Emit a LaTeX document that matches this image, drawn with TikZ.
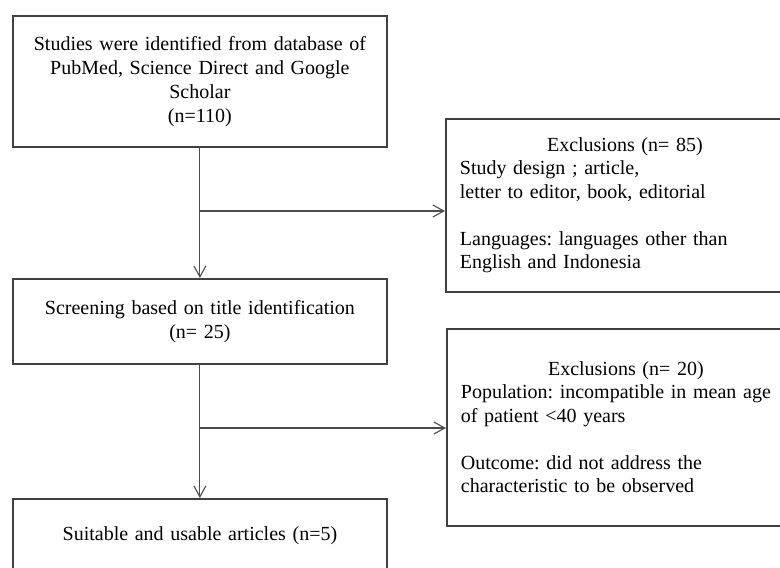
\documentclass[tikz,border=0pt]{standalone}
\usepackage{fontspec}
\setmainfont{Liberation Serif}
\usetikzlibrary{arrows.meta}
\frenchspacing

\begin{document}
\begin{tikzpicture}[x=1pt,y=-1pt,
    box/.style={draw=black!75, line width=1.8pt, rectangle, anchor=north west,
      inner xsep=14pt, inner ysep=0pt, font=\fontsize{20}{24}\selectfont},
    flow/.style={draw=black!70, line width=1.1pt,
      -{Straight Barb[length=11pt,width=12pt]}}]
    \fill[white] (0,0) rectangle (780,568);
    \useasboundingbox (0,0) rectangle (780,568);
    \clip (0,0) rectangle (780,568);

    % main column
    \node[box, minimum width=374pt, minimum height=131pt, text width=346pt,
      align=center] (studies) at (12,15)
      {Studies were identified from database of\\
       PubMed, Science Direct and Google\\
       Scholar\\
       (n=110)};
    \node[box, minimum width=374pt, minimum height=85pt, text width=346pt,
      align=center] (screen) at (12,278)
      {Screening based on title identification\\
       (n= 25)};
    \node[box, minimum width=374pt, minimum height=74pt, text width=346pt,
      align=center] (suitable) at (12,498)
      {Suitable and usable articles (n=5)};

    % exclusions
    \node[box, minimum height=173pt, text width=330pt, align=left,
      font=\fontsize{20}{23.5}\selectfont] (excl1) at (445,118)
      {{\centering Exclusions (n= 85)\par}
       Study design ; article,\\
       letter to editor, book, editorial\\[23.5pt]
       Languages: languages other than\\
       English and Indonesia};
    \node[box, minimum height=197pt, text width=330pt, align=left,
      font=\fontsize{20}{23.5}\selectfont] (excl2) at (446,328)
      {{\centering Exclusions (n= 20)\par}
       Population: incompatible in mean age\\
       of patient <40 years\\[23.5pt]
       Outcome: did not address the\\
       characteristic to be observed};

    % connectors
    \coordinate (split1) at (199,211);
    \coordinate (split2) at (199,428);
    \draw[flow] (studies) -- (screen);
    \draw[flow] (split1) -- (split1 -| excl1.west);
    \draw[flow] (screen) -- (suitable);
    \draw[flow] (split2) -- (split2 -| excl2.west);
\end{tikzpicture}
\end{document}
